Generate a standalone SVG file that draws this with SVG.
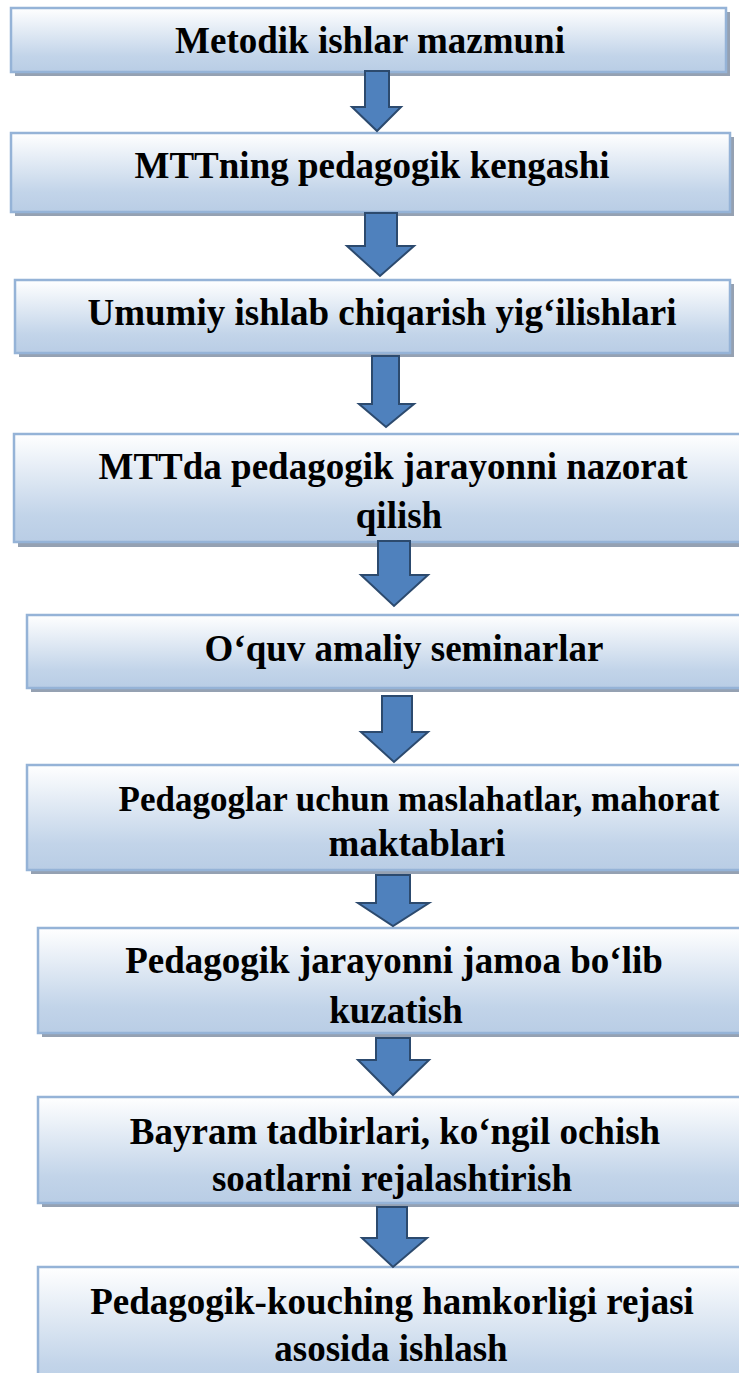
<svg xmlns="http://www.w3.org/2000/svg" width="739" height="1373" viewBox="0 0 739 1373">
<defs>
<linearGradient id="g" x1="0" y1="0" x2="0" y2="1">
<stop offset="0" stop-color="#FFFFFF"/>
<stop offset="0.75" stop-color="#C2D4E9"/>
<stop offset="1" stop-color="#B9CDE5"/>
</linearGradient>
<style>
.sh{fill:#95A1B2;}
.bx{fill:url(#g);stroke:#95B3D7;stroke-width:2.5;}
.t{font-weight:bold;font-size:37px;fill:#000;text-anchor:middle;}
.ar{fill:#4F81BD;stroke:#2C4A6E;stroke-width:2;stroke-linejoin:miter;}
</style>
</defs>
<rect width="739" height="1373" fill="#FFFFFF"/>
<g font-family="'Liberation Serif', Tinos, 'Times New Roman', Times, 'DejaVu Serif', serif">
<g id="n1">
<rect class="sh" x="15" y="12" width="715" height="64"/>
<rect class="bx" x="11" y="8" width="715" height="64"/>
<text class="t" x="370" y="53">Metodik ishlar mazmuni</text>
</g>
<g id="n2">
<rect class="sh" x="15" y="137" width="719" height="79"/>
<rect class="bx" x="11" y="133" width="719" height="79"/>
<text class="t" x="372" y="178">MTTning pedagogik kengashi</text>
</g>
<g id="n3">
<rect class="sh" x="19" y="284" width="715" height="73"/>
<rect class="bx" x="15" y="280" width="715" height="73"/>
<text class="t" x="382" y="325">Umumiy ishlab chiqarish yig‘ilishlari</text>
</g>
<g id="n4">
<rect class="sh" x="18" y="438" width="740" height="109"/>
<rect class="bx" x="14" y="434" width="740" height="108"/>
<text class="t" x="393" y="479">MTTda pedagogik jarayonni nazorat</text>
<text class="t" x="399" y="528">qilish</text>
</g>
<g id="n5">
<rect class="sh" x="31" y="619" width="740" height="73"/>
<rect class="bx" x="27" y="615" width="740" height="73"/>
<text class="t" x="404" y="661">O‘quv amaliy seminarlar</text>
</g>
<g id="n6">
<rect class="sh" x="31" y="769" width="740" height="105"/>
<rect class="bx" x="27" y="765" width="740" height="105"/>
<text class="t" x="419" y="811" style="font-size:35px">Pedagoglar uchun maslahatlar, mahorat</text>
<text class="t" x="417" y="856">maktablari</text>
</g>
<g id="n7">
<rect class="sh" x="42" y="932" width="740" height="105"/>
<rect class="bx" x="38" y="928" width="740" height="105"/>
<text class="t" x="394" y="973">Pedagogik jarayonni jamoa bo‘lib</text>
<text class="t" x="396" y="1023">kuzatish</text>
</g>
<g id="n8">
<rect class="sh" x="42" y="1101" width="740" height="106"/>
<rect class="bx" x="38" y="1097" width="740" height="106"/>
<text class="t" x="395" y="1144">Bayram tadbirlari, ko‘ngil ochish</text>
<text class="t" x="392" y="1191">soatlarni rejalashtirish</text>
</g>
<g id="n9">
<rect class="sh" x="42" y="1271" width="740" height="130"/>
<rect class="bx" x="38" y="1267" width="740" height="130"/>
<text class="t" x="392" y="1314">Pedagogik-kouching hamkorligi rejasi</text>
<text class="t" x="391" y="1361">asosida ishlash</text>
</g>
</g>
<g id="connectors">
<polygon class="ar" points="365,71 389,71 389,107 401,107 377,131 352,107 365,107"/>
<polygon class="ar" points="365,213 397,213 397,246 414,246 380,276 347,246 365,246"/>
<polygon class="ar" points="372,356 399,356 399,404 414,404 386,427 359,404 372,404"/>
<polygon class="ar" points="378,541 410,541 410,575 428,575 394,606 361,575 378,575"/>
<polygon class="ar" points="382,696 412,696 412,732 428,732 394,762 361,732 382,732"/>
<polygon class="ar" points="376,875 410,875 410,903 429,903 393,926 358,903 376,903"/>
<polygon class="ar" points="376,1038 410,1038 410,1060 429,1060 393,1095 358,1060 376,1060"/>
<polygon class="ar" points="377,1207 407,1207 407,1238 427,1238 393,1267 362,1238 377,1238"/>
</g>
</svg>
